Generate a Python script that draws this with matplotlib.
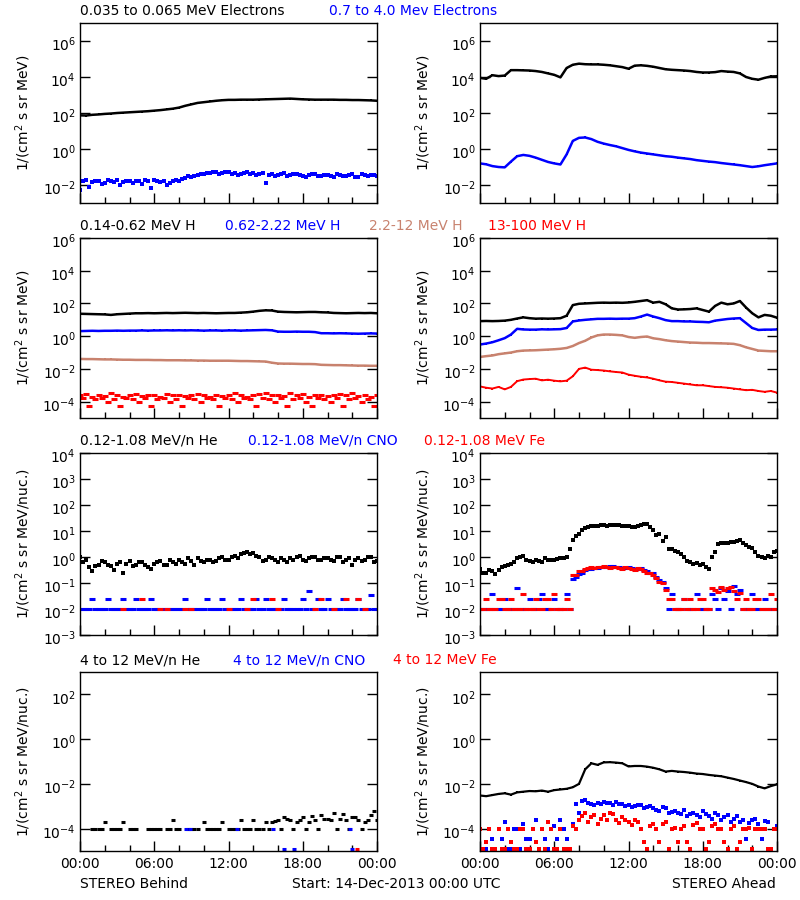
import numpy as np
import matplotlib
matplotlib.use("Agg")
import matplotlib.pyplot as plt
import matplotlib.transforms as mtransforms
from matplotlib.ticker import NullLocator

nan = np.nan

# ---------------- time axis (hours after 14-Dec-2013 00:00 UTC) ----------------
HOURS = np.arange(0, 24.001, 0.5)          # 49 half-hour samples
HOURS_B = np.arange(0.25, 24.0, 0.5)       # 48 offset samples
XTICK_LABELS = ["00:00", "06:00", "12:00", "18:00", "00:00"]

BLACK = "#000000"
BLUE = "#0000FF"
RED = "#FF0000"
TAN = "#C8826E"

# ---------------- Row 1: electrons (log10 flux) ----------------
beh_e_low = [1.87, 1.86, 1.9, 1.92, 1.95, 1.97, 2.0, 2.02,
             2.04, 2.06, 2.08, 2.1, 2.13, 2.16, 2.2, 2.24,
             2.3, 2.4, 2.48, 2.56, 2.6, 2.64, 2.68, 2.71,
             2.73, 2.73, 2.74, 2.74, 2.74, 2.75, 2.76, 2.77,
             2.78, 2.79, 2.8, 2.78, 2.76, 2.75, 2.74, 2.74,
             2.74, 2.74, 2.73, 2.73, 2.72, 2.72, 2.71, 2.7,
             2.68]
beh_e_high = [-2.3, -1.7, -1.85, -1.75, -1.9, -1.8, -1.7, -1.85,
              -1.8, -1.75, -1.95, -1.8, -1.7, -1.85, -2.0, -1.8,
              -1.75, -1.6, -1.55, -1.45, -1.4, -1.35, -1.3, -1.35,
              -1.3, -1.35, -1.4, -1.3, -1.35, -1.4, -1.9, -1.38,
              -1.42, -1.35, -1.45, -1.4, -1.5, -1.45, -1.4, -1.5,
              -1.45, -1.55, -1.45, -1.5, -1.4, -1.55, -1.45, -1.42,
              -1.48]
beh_e_high_b = [-1.8, -2.1, -1.75, -1.95, -1.7, -1.85, -2.0, -1.75,
                -1.9, -1.8, -1.7, -2.15, -1.8, -1.75, -1.9, -1.7,
                -1.65, -1.5, -1.5, -1.4, -1.35, -1.3, -1.4, -1.3,
                -1.4, -1.45, -1.35, -1.4, -1.45, -1.35, -1.45, -1.5,
                -1.4, -1.5, -1.4, -1.45, -1.55, -1.4, -1.5, -1.45,
                -1.5, -1.4, -1.5, -1.45, -1.55, -1.4, -1.5, -1.45]
ahd_e_low = [3.95, 3.9, 4.1, 4.05, 4.08, 4.38, 4.38, 4.37,
             4.36, 4.33, 4.28, 4.2, 4.12, 3.98, 4.5, 4.68,
             4.74, 4.71, 4.7, 4.7, 4.68, 4.65, 4.6, 4.55,
             4.46, 4.63, 4.65, 4.62, 4.57, 4.5, 4.43, 4.4,
             4.38, 4.36, 4.33, 4.28, 4.25, 4.25, 4.27, 4.33,
             4.3, 4.28, 4.2, 4.0, 3.9, 3.85, 3.95, 4.03,
             4.04]
ahd_e_high = [-0.8, -0.85, -0.95, -1.0, -1.02, -0.7, -0.4, -0.33,
              -0.38, -0.48, -0.6, -0.72, -0.8, -0.86, -0.3, 0.45,
              0.62, 0.64, 0.55, 0.4, 0.3, 0.22, 0.15, 0.05,
              -0.05, -0.13, -0.2, -0.25, -0.3, -0.35, -0.4, -0.43,
              -0.48, -0.52, -0.56, -0.62, -0.66, -0.7, -0.73, -0.78,
              -0.82, -0.86, -0.9, -0.95, -1.0, -0.96, -0.9, -0.85,
              -0.8]

# ---------------- Row 2: protons (log10 flux) ----------------
beh_h1 = [1.37, 1.36, 1.35, 1.34, 1.33, 1.3, 1.34, 1.36,
          1.38, 1.4, 1.4, 1.41, 1.4, 1.41, 1.42, 1.41,
          1.42, 1.43, 1.42, 1.41, 1.42, 1.41, 1.4, 1.41,
          1.42, 1.42, 1.44, 1.46, 1.5, 1.55, 1.58, 1.57,
          1.5, 1.48, 1.47, 1.46, 1.47, 1.48, 1.48, 1.46,
          1.45, 1.42, 1.41, 1.4, 1.41, 1.42, 1.41, 1.42,
          1.4]
beh_h2 = [0.31, 0.32, 0.33, 0.32, 0.33, 0.33, 0.34, 0.33,
          0.34, 0.34, 0.35, 0.34, 0.35, 0.35, 0.36, 0.35,
          0.36, 0.35, 0.36, 0.35, 0.34, 0.35, 0.35, 0.34,
          0.35, 0.35, 0.34, 0.35, 0.36, 0.37, 0.38, 0.36,
          0.28, 0.27, 0.27, 0.28, 0.27, 0.27, 0.25, 0.18,
          0.18, 0.17, 0.18, 0.17, 0.16, 0.15, 0.16, 0.17,
          0.16]
beh_h3 = [-1.39, -1.4, -1.4, -1.41, -1.42, -1.42, -1.43, -1.44,
          -1.44, -1.45, -1.45, -1.45, -1.46, -1.46, -1.47, -1.47,
          -1.47, -1.48, -1.48, -1.49, -1.49, -1.5, -1.5, -1.5,
          -1.5, -1.51, -1.52, -1.52, -1.53, -1.54, -1.55, -1.62,
          -1.67, -1.68, -1.68, -1.69, -1.7, -1.7, -1.71, -1.75,
          -1.76, -1.77, -1.77, -1.78, -1.79, -1.8, -1.8, -1.81,
          -1.81]
beh_h4_a = [-3.6, -3.55, -3.7, -3.6, -3.65, -3.45, -3.6, -3.7,
            -3.6, -3.55, -3.65, -3.6, -3.6, -3.7, -3.55, -3.6,
            -3.6, -3.65, -3.6, -3.55, -3.6, -3.7, -3.6, -3.65,
            -3.6, -3.5, -3.6, -3.7, -3.6, -3.55, -3.45, -3.6,
            -3.6, -3.65, -3.5, -3.6, -3.55, -3.7, -3.6, -3.6,
            -3.65, -3.6, -3.55, -3.6, -3.5, -3.65, -3.6, -3.7,
            -3.6]
beh_h4_b = [-3.8, -4.25, -3.85, -3.8, -4.0, -3.85, -4.25, -3.8,
            -3.85, -4.0, -3.8, -4.25, -3.85, -3.8, -4.0, -3.85,
            -4.25, -3.8, -3.85, -4.0, -3.8, -3.85, -4.25, -3.8,
            -3.85, -4.0, -3.8, -3.85, -4.25, -3.8, -3.85, -4.0,
            -3.8, -4.25, -3.85, -3.8, -4.0, -4.25, -3.8, -3.85,
            -4.0, -3.8, -4.25, -3.85, -3.8, -4.0, -3.85, -4.25,
            -3.8]
ahd_h1 = [0.92, 0.93, 0.92, 0.93, 0.95, 1.0, 1.08, 1.15,
          1.1, 1.07, 1.08, 1.07, 1.08, 1.1, 1.25, 1.9,
          1.98, 2.0, 2.02, 2.04, 2.05, 2.04, 2.05, 2.04,
          2.06, 2.1, 2.15, 2.2, 2.05, 2.1, 1.95, 1.7,
          1.63, 1.64, 1.66, 1.7, 1.6, 1.5, 1.85, 2.05,
          1.95, 2.0, 2.15, 1.75, 1.4, 1.15, 1.3, 1.25,
          1.13]
ahd_h2 = [-0.51, -0.45, -0.37, -0.25, -0.12, 0.1, 0.45, 0.41,
          0.4, 0.4, 0.42, 0.41, 0.42, 0.43, 0.5, 0.9,
          0.96, 1.0, 1.03, 1.06, 1.06, 1.07, 1.06, 1.07,
          1.07, 1.1, 1.2, 1.32, 1.2, 1.1, 0.98, 0.92,
          0.92, 0.9, 0.9, 0.88, 0.87, 0.85, 0.95, 1.0,
          1.05, 1.08, 1.1, 0.8, 0.5, 0.38, 0.4, 0.4,
          0.41]
ahd_h3 = [-1.27, -1.22, -1.18, -1.1, -1.05, -1.0, -0.92, -0.88,
          -0.87, -0.86, -0.84, -0.82, -0.8, -0.77, -0.72, -0.6,
          -0.42, -0.28, -0.08, 0.05, 0.1, 0.1, 0.08, 0.05,
          -0.05, -0.1, -0.05, -0.02, -0.13, -0.18, -0.25, -0.3,
          -0.33, -0.36, -0.39, -0.4, -0.42, -0.42, -0.43, -0.44,
          -0.45, -0.47, -0.55, -0.68, -0.78, -0.88, -0.9, -0.92,
          -0.92]
ahd_h4 = [-3.07, -3.15, -3.2, -3.1, -3.25, -3.1, -2.75, -2.65,
          -2.62, -2.6, -2.7, -2.66, -2.72, -2.76, -2.72, -2.45,
          -2.0, -1.92, -2.05, -2.07, -2.1, -2.15, -2.19, -2.22,
          -2.35, -2.42, -2.48, -2.52, -2.6, -2.7, -2.78, -2.8,
          -2.85, -2.9, -2.95, -3.0, -3.0, -3.05, -3.1, -3.12,
          -3.15, -3.2, -3.25, -3.3, -3.28, -3.35, -3.4, -3.35,
          -3.45]

# ---------------- Row 3: 0.12-1.08 MeV/n ions (log10 flux) ----------------
beh_he = [0.0, -0.1, -0.55, -0.3, -0.2, -0.35, -0.25, -0.6,
          -0.15, -0.3, -0.2, -0.4, -0.25, -0.15, -0.3, -0.2,
          -0.1, -0.25, -0.15, -0.05, -0.2, -0.1, -0.15, 0.0,
          -0.1, 0.05, 0.1, 0.2, 0.15, 0.0, -0.1, -0.05,
          -0.2, -0.1, -0.05, 0.0, -0.1, -0.05, 0.0, -0.1,
          -0.05, -0.15, 0.0, -0.1, -0.3, -0.05, -0.1, 0.0,
          -0.15]
beh_he_b = [-0.2, -0.4, -0.35, -0.15, -0.3, -0.5, -0.2, -0.25,
            -0.35, -0.2, -0.3, -0.45, -0.2, -0.3, -0.1, -0.25,
            -0.2, -0.05, -0.3, -0.15, -0.1, -0.2, -0.05, -0.1,
            0.0, -0.05, 0.15, 0.1, 0.05, -0.15, 0.0, -0.1,
            -0.05, -0.2, -0.1, 0.05, -0.15, 0.0, -0.1, -0.05,
            -0.1, 0.0, -0.2, -0.05, -0.1, -0.15, 0.0, -0.2]
beh_cno = [-2.0, -2.0, -1.63, -2.0, -2.0, -2.0, -2.0, -1.63,
           -2.0, -1.63, -2.0, -2.0, -2.0, -2.0, -2.0, -2.0,
           -2.0, -1.63, -2.0, -2.0, -2.0, -2.0, -2.0, -1.63,
           -2.0, -2.0, -1.63, -2.0, -2.0, -2.0, -1.63, -2.0,
           -2.0, -1.63, -2.0, -2.0, -1.63, -1.3, -2.0, -2.0,
           -1.63, -2.0, -2.0, -2.0, -2.0, -1.63, -2.0, -1.45,
           -2.0]
beh_cno_b = [-2.0, -2.0, -2.0, -2.0, -1.63, -2.0, -2.0, -2.0,
             -2.0, -2.0, -2.0, -1.63, -2.0, -2.0, -2.0, -2.0,
             -2.0, -2.0, -2.0, -2.0, -1.63, -2.0, -2.0, -2.0,
             -2.0, -2.0, -2.0, -2.0, -1.63, -2.0, -2.0, -2.0,
             -2.0, -2.0, -2.0, -2.0, -2.0, -2.0, -1.63, -2.0,
             -2.0, -2.0, -1.63, -2.0, -2.0, -2.0, -2.0, -2.0]
beh_fe = [nan, nan, nan, nan, nan, nan, nan, -2.0,
          nan, nan, -1.63, nan, nan, -2.0, -2.0, nan,
          nan, -2.0, -2.0, nan, nan, nan, nan, nan,
          -2.0, nan, nan, -2.0, -1.63, nan, nan, -1.63,
          -2.0, nan, nan, nan, nan, nan, -2.0, -1.63,
          nan, -2.0, nan, -1.63, nan, -1.63, -2.0, nan,
          nan]
ahd_he = [-0.45, -0.62, -0.55, -0.5, -0.35, -0.25, -0.05, 0.05,
          -0.15, -0.1, -0.18, -0.12, -0.1, -0.05, 0.0, 0.65,
          0.9, 1.12, 1.18, 1.2, 1.22, 1.25, 1.24, 1.2,
          1.18, 1.15, 1.22, 1.28, 1.05, 0.9, 0.78, 0.3,
          0.2, 0.0, -0.2, -0.22, -0.28, -0.45, 0.2, 0.52,
          0.55, 0.58, 0.65, 0.45, 0.35, 0.05, -0.02, 0.0,
          0.25]
ahd_he_b = [-0.6, -0.5, -0.65, -0.4, -0.3, -0.2, 0.0, -0.1,
            -0.2, -0.15, -0.05, -0.1, -0.08, -0.02, 0.3, 0.8,
            1.05, 1.15, 1.2, 1.22, 1.2, 1.24, 1.22, 1.18,
            1.17, 1.2, 1.26, 1.15, 0.85, 0.6, 0.32, 0.25,
            0.1, -0.15, -0.25, -0.3, -0.4, 0.0, 0.5, 0.55,
            0.58, 0.62, 0.55, 0.4, 0.2, 0.0, 0.05, 0.2]
ahd_cno = [-2.0, -2.0, -1.43, -2.0, -1.63, -2.0, -1.2, -2.0,
           -1.63, -2.0, -1.43, -2.0, -1.63, -2.0, -1.43, -0.85,
           -0.65, -0.5, -0.45, -0.42, -0.4, -0.35, -0.4, -0.42,
           -0.4, -0.45, -0.42, -0.55, -0.6, -0.9, -1.2, -1.43,
           -2.0, -1.63, -2.0, -1.43, -2.0, -2.0, -1.63, -1.2,
           -1.3, -1.1, -1.25, -2.0, -1.43, -2.0, -1.63, -2.0,
           -2.0]
ahd_cno_b = [-2.0, -2.0, -2.0, -2.0, -2.0, -2.0, -2.0, -2.0,
             -2.0, -1.63, -2.0, -2.0, -2.0, -2.0, -2.0, -0.75,
             -0.6, -0.48, -0.44, -0.4, -0.38, -0.36, -0.4, -0.42,
             -0.43, -0.48, -0.5, -0.62, -0.75, -0.98, -2.0, -2.0,
             -2.0, -2.0, -2.0, -2.0, -2.0, -1.43, -2.0, -1.63,
             -2.0, -1.43, -2.0, -2.0, -2.0, -2.0, -2.0, -2.0]
ahd_fe = [-2.0, -1.63, -2.0, -1.63, -2.0, -1.63, -2.0, -1.43,
          -2.0, -1.63, -2.0, -1.63, -1.43, -2.0, -1.63, -0.7,
          -0.55, -0.45, -0.4, -0.38, -0.35, -0.42, -0.38, -0.45,
          -0.42, -0.5, -0.45, -0.6, -0.7, -0.95, -1.25, -1.63,
          -2.0, -1.63, -1.63, -2.0, -1.63, -2.0, -1.25, -1.15,
          -1.2, -1.3, -1.4, -1.63, -2.0, -1.63, -2.0, -1.43,
          -1.63]
ahd_fe_b = [-2.0, -2.0, -2.0, -1.63, -2.0, -2.0, -2.0, -2.0,
            -2.0, -2.0, -1.63, -2.0, -2.0, -2.0, -2.0, -0.7,
            -0.52, -0.42, -0.42, -0.37, -0.4, -0.38, -0.43, -0.4,
            -0.45, -0.44, -0.55, -0.6, -0.8, -1.0, -1.63, -2.0,
            -2.0, -2.0, -2.0, -1.63, -2.0, -1.2, -1.35, -1.25,
            -1.15, -1.63, -2.0, -2.0, -1.63, -2.0, -2.0, -2.0]

# ---------------- Row 4: 4-12 MeV/n ions (log10 flux) ----------------
beh_he4 = [nan, nan, -4.0, -4.0, -3.7, -4.0, -4.0, -3.7,
           -4.0, -4.0, nan, -4.0, -4.0, -4.0, -4.0, -3.6,
           -4.0, nan, -4.0, -4.0, -3.7, -4.0, -4.0, -3.7,
           -4.0, -4.0, -3.6, -4.0, -3.6, -4.0, -3.7, -3.7,
           -3.6, -3.5, -3.6, -3.7, -3.5, -3.7, -3.6, -3.4,
           -3.55, -3.3, -3.55, -3.6, -3.5, -3.6, -3.7, -3.4,
           -3.6]
beh_he4_b = [nan, nan, -4.0, -4.0, nan, -4.0, -4.0, nan,
             -4.0, nan, nan, -4.0, -4.0, nan, -4.0, -4.0,
             nan, -4.0, -4.0, nan, -4.0, -4.0, -4.0, nan,
             -4.0, -4.0, -4.0, -4.0, -4.0, -4.0, -4.0, -3.65,
             -4.0, -3.55, -4.0, -3.6, -4.0, -3.45, -4.0, -3.55,
             -3.6, -4.0, -3.35, -4.0, -3.5, -4.0, -3.6, -3.2]
beh_cno4_t = [8.6, 8.9, 12.7, 15.6, 16.5, 17.3, 21.8, 22.0]
beh_cno4 = [-4.0, -4.0, -4.0, -4.0, -4.9, -4.9, -4.0, -4.9]
beh_fe4_t = [22.4]
beh_fe4 = [-4.9]
ahd_he4 = [-2.52, -2.55, -2.5, -2.45, -2.42, -2.48, -2.38, -2.35,
           -2.32, -2.33, -2.3, -2.35, -2.28, -2.25, -2.22, -2.15,
           -2.0, -1.35, -1.08, -1.15, -1.04, -1.03, -1.05, -1.08,
           -1.22, -1.2, -1.2, -1.23, -1.28, -1.35, -1.45, -1.42,
           -1.45, -1.47, -1.5, -1.54, -1.56, -1.6, -1.63, -1.66,
           -1.72, -1.78, -1.85, -1.92, -2.0, -2.12, -2.2, -2.1,
           -2.02]
ahd_cno4 = [-4.0, -4.9, -4.45, -4.0, -3.7, -4.9, -4.0, -3.8,
            -4.45, -3.6, -4.0, -4.9, -3.9, -3.6, -4.45, -3.8,
            -3.3, -2.7, -2.9, -2.85, -2.8, -2.85, -2.8, -2.9,
            -2.95, -3.0, -2.95, -3.05, -3.1, -3.2, -3.1, -3.25,
            -3.3, -3.15, -3.35, -3.4, -3.2, -3.45, -3.3, -3.6,
            -3.4, -3.55, -3.7, -4.45, -3.6, -3.8, -3.65, -4.9,
            -3.9]
ahd_cno4_b = [-4.9, -4.0, -4.9, -4.45, -4.9, -4.0, -4.9, -4.45,
              -4.0, -4.9, -4.45, -4.0, -4.45, -4.0, -4.9, -2.9,
              -2.75, -2.85, -2.95, -2.9, -2.85, -2.95, -2.9, -3.0,
              -3.05, -2.95, -3.1, -3.0, -3.15, -3.05, -3.3, -3.2,
              -3.35, -3.45, -3.3, -3.5, -3.35, -3.55, -3.4, -3.5,
              -3.7, -3.45, -3.6, -3.75, -3.55, -4.45, -3.7, -4.0]
ahd_fe4 = [-4.0, -4.6, -4.9, -4.0, -4.9, -4.6, -4.9, -4.0,
           -4.9, -4.6, -4.0, -3.7, -4.9, -4.0, -4.9, -3.9,
           -3.6, -3.3, -3.5, -3.8, -3.4, -3.3, -3.6, -3.5,
           -3.7, -3.6, -4.0, -4.9, -3.8, -4.6, -3.7, -4.0,
           -4.6, -3.9, -4.9, -3.75, -4.0, -4.6, -3.8, -4.0,
           -4.9, -3.9, -4.6, -4.0, -4.9, -4.0, -4.0, -4.9,
           -4.0]
ahd_fe4_b = [-4.9, -4.0, -4.9, -4.9, -4.0, -4.9, -4.0, -4.9,
             -4.0, -4.9, -4.9, -4.0, -4.9, -4.9, -4.9, -4.0,
             -3.45, -3.7, -3.4, -3.55, -3.6, -3.35, -3.75, -3.6,
             -3.85, -3.7, -4.6, -3.9, -4.0, -3.8, -4.9, -3.95,
             -4.0, -4.6, -3.85, -4.0, -4.9, -3.9, -4.0, -4.6,
             -4.0, -4.9, -4.0, -3.95, -4.0, -4.0, -4.9, -4.0]

# ---------------- titles / labels ----------------
row_titles = [
    [("0.035 to 0.065 MeV Electrons", BLACK, 80), ("0.7 to 4.0 Mev Electrons", BLUE, 329)],
    [("0.14-0.62 MeV H", BLACK, 80), ("0.62-2.22 MeV H", BLUE, 225),
     ("2.2-12 MeV H", TAN, 369), ("13-100 MeV H", RED, 488)],
    [("0.12-1.08 MeV/n He", BLACK, 80), ("0.12-1.08 MeV/n CNO", BLUE, 248),
     ("0.12-1.08 MeV Fe", RED, 424)],
    [("4 to 12 MeV/n He", BLACK, 80), ("4 to 12 MeV/n CNO", BLUE, 233),
     ("4 to 12 MeV Fe", RED, 393)],
]
ylabels = ["1/(cm$^2$ s sr MeV)", "1/(cm$^2$ s sr MeV)",
           "1/(cm$^2$ s sr MeV/nuc.)", "1/(cm$^2$ s sr MeV/nuc.)"]
ylims = [(-3, 7), (-5, 6), (-3, 4), (-5, 3)]
ytick_exps = [[-2, 0, 2, 4, 6], [-4, -2, 0, 2, 4, 6],
              [-3, -2, -1, 0, 1, 2, 3, 4], [-4, -2, 0, 2]]
row_px = [(23, 203), (238, 418), (453, 635), (672, 851)]

W, H = 800, 900
fig = plt.figure(figsize=(8, 9), dpi=100)
plt.rcParams['font.family'] = ['DejaVu Sans']
FS = 10
label_shift = mtransforms.ScaledTranslation(0, -2.5 / 100, fig.dpi_scale_trans)


def to_flux(vals):
    return np.power(10.0, np.array(vals, dtype=float))


def make_ax(col, row):
    x0 = 80 if col == 0 else 480
    top, bot = row_px[row]
    ax = fig.add_axes([x0 / W, 1 - bot / H, 297 / W, (bot - top) / H])
    ax.set_yscale('log')
    lo, hi = ylims[row]
    ax.set_ylim(10.0 ** lo, 10.0 ** hi)
    ax.set_xlim(0, 24)
    ex = ytick_exps[row]
    ax.set_yticks([10.0 ** e for e in ex])
    ax.set_yticklabels(["$10^{%d}$" % e for e in ex], fontsize=FS)
    ax.yaxis.set_minor_locator(NullLocator())
    ax.set_xticks([0, 6, 12, 18, 24])
    ax.set_xticks(list(range(0, 25, 2)), minor=True)
    if row == 3:
        ax.set_xticklabels(XTICK_LABELS, fontsize=FS)
    else:
        ax.set_xticklabels([])
    ax.tick_params(axis='y', which='major', direction='in', left=True, right=True,
                   length=7, width=1, pad=3)
    ax.tick_params(axis='x', which='major', direction='in', bottom=True, top=False,
                   length=7, width=1, pad=4)
    ax.tick_params(axis='x', which='minor', direction='in', bottom=True, top=False,
                   length=4, width=1)
    for s in ax.spines.values():
        s.set_linewidth(1.0)
        s.set_color('black')
    ax.set_ylabel(ylabels[row], fontsize=FS)
    ax.yaxis.set_label_coords(-0.158, 0.5)
    # IDL-style: tick labels sit slightly below their tick marks
    for tick in ax.yaxis.get_major_ticks():
        tick.label1.set_transform(tick.label1.get_transform() + label_shift)
    return ax


def line(ax, t, v, c, lw=1.8):
    ax.plot(t, to_flux(v), '-', color=c, lw=lw, marker='s', ms=1.6, mew=0)


def dots(ax, t, v, c, ms=2.6, marker='s'):
    ax.plot(t, to_flux(v), linestyle='none', marker=marker, color=c, ms=ms, mew=0)


def dashes(ax, t, v, c, ms=4.5):
    ax.plot(t, to_flux(v), linestyle='none', marker='_', color=c, ms=ms, mew=2.2)


axes = [[make_ax(c, r) for c in range(2)] for r in range(4)]

# Row 1
line(axes[0][0], HOURS, beh_e_low, BLACK)
dots(axes[0][0], HOURS, beh_e_high, BLUE)
dots(axes[0][0], HOURS_B, beh_e_high_b, BLUE)
line(axes[0][1], HOURS, ahd_e_low, BLACK)
line(axes[0][1], HOURS, ahd_e_high, BLUE)

# Row 2
line(axes[1][0], HOURS, beh_h1, BLACK)
line(axes[1][0], HOURS, beh_h2, BLUE)
line(axes[1][0], HOURS, beh_h3, TAN)
dashes(axes[1][0], HOURS, beh_h4_a, RED)
dashes(axes[1][0], HOURS + 0.25, beh_h4_b, RED)
line(axes[1][1], HOURS, ahd_h1, BLACK)
line(axes[1][1], HOURS, ahd_h2, BLUE)
line(axes[1][1], HOURS, ahd_h3, TAN)
line(axes[1][1], HOURS, ahd_h4, RED, lw=1.4)

# Row 3
dots(axes[2][0], HOURS, beh_he, BLACK)
dots(axes[2][0], HOURS_B, beh_he_b, BLACK)
dashes(axes[2][0], HOURS, beh_cno, BLUE)
dashes(axes[2][0], HOURS_B, beh_cno_b, BLUE)
dashes(axes[2][0], HOURS, beh_fe, RED)
dots(axes[2][1], HOURS, ahd_he, BLACK)
dots(axes[2][1], HOURS_B, ahd_he_b, BLACK)
dashes(axes[2][1], HOURS, ahd_cno, BLUE)
dashes(axes[2][1], HOURS_B, ahd_cno_b, BLUE)
dashes(axes[2][1], HOURS, ahd_fe, RED)
dashes(axes[2][1], HOURS_B, ahd_fe_b, RED)

# Row 4
dashes(axes[3][0], HOURS, beh_he4, BLACK, ms=3.5)
dashes(axes[3][0], HOURS_B, beh_he4_b, BLACK, ms=3.5)
dashes(axes[3][0], beh_cno4_t, beh_cno4, BLUE, ms=3.5)
dashes(axes[3][0], beh_fe4_t, beh_fe4, RED, ms=3.5)
line(axes[3][1], HOURS, ahd_he4, BLACK, lw=1.6)
dots(axes[3][1], HOURS, ahd_cno4, BLUE)
dots(axes[3][1], HOURS_B, ahd_cno4_b, BLUE)
dots(axes[3][1], HOURS, ahd_fe4, RED)
dots(axes[3][1], HOURS_B, ahd_fe4_b, RED)

# Row titles
for r, parts in enumerate(row_titles):
    top = row_px[r][0]
    for txt, col, xpx in parts:
        fig.text(xpx / W, 1 - (top - 12) / H, txt, color=col, fontsize=FS,
                 ha='left', va='center')

# Footer
fig.text(80 / W, 1 - 884 / H, "STEREO Behind", fontsize=FS, ha='left', va='center')
fig.text(292 / W, 1 - 884 / H, "Start: 14-Dec-2013 00:00 UTC", fontsize=FS,
         ha='left', va='center')
fig.text(776 / W, 1 - 884 / H, "STEREO Ahead", fontsize=FS, ha='right', va='center')

fig.savefig("out.png", dpi=100, facecolor='white')
